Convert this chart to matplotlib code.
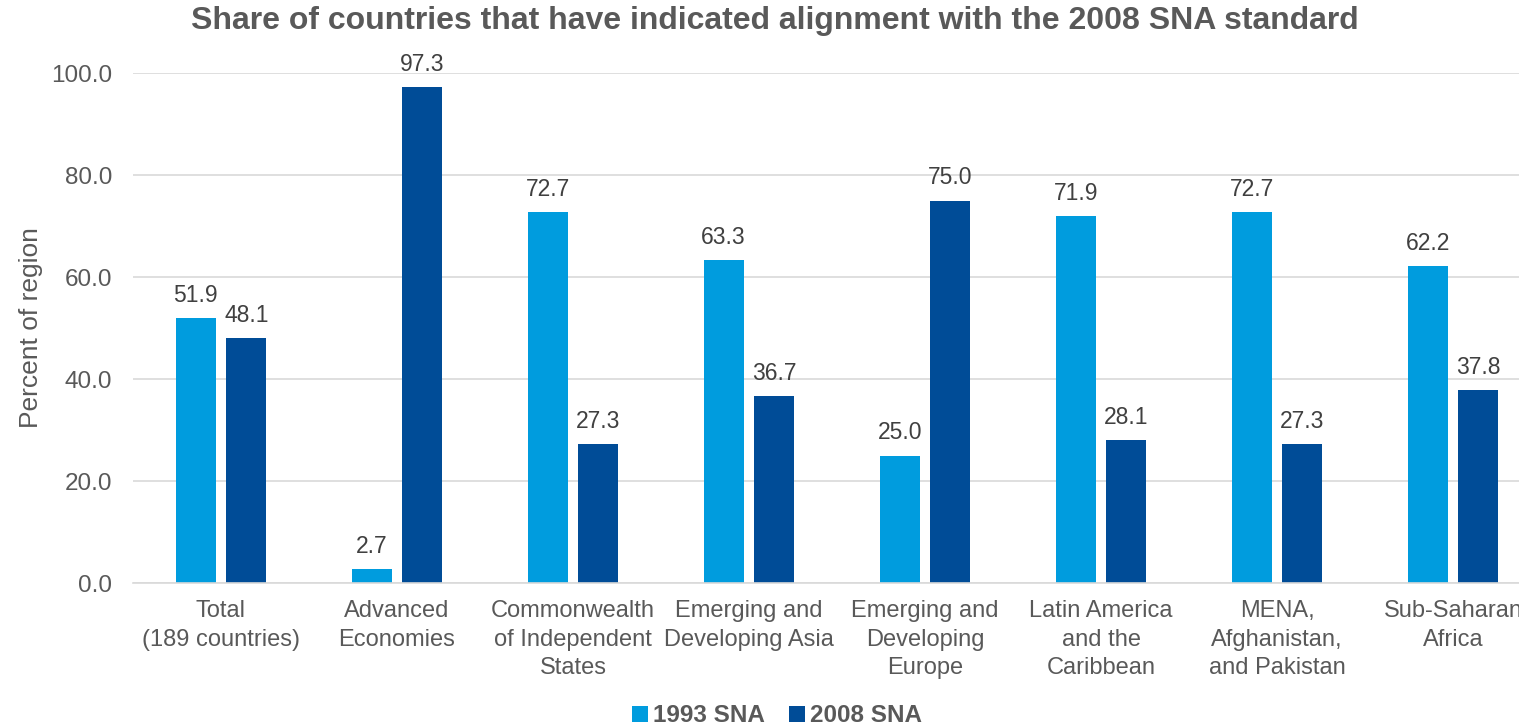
import numpy as np
import matplotlib.pyplot as plt

plt.rcParams['font.family'] = ['Liberation Sans', 'DejaVu Sans']

categories = ["Total\n(189 countries)", "Advanced\nEconomies", "Commonwealth\nof Independent\nStates",
              "Emerging and\nDeveloping Asia", "Emerging and\nDeveloping\nEurope",
              "Latin America\nand the\nCaribbean", "MENA,\nAfghanistan,\nand Pakistan", "Sub-Saharan\nAfrica"]
sna1993 = [51.9, 2.7, 72.7, 63.3, 25.0, 71.9, 72.7, 62.2]
sna2008 = [48.1, 97.3, 27.3, 36.7, 75.0, 28.1, 27.3, 37.8]

c1993 = "#009CDE"
c2008 = "#004C97"
txt = "#595959"

W, H = 1519, 728
fig = plt.figure(figsize=(W / 100, H / 100), dpi=100)
# plot area runs past the right edge, as in the original
left, right, top, bottom = 133, 1541, 73, 583
ax = fig.add_axes([left / W, 1 - bottom / H, (right - left) / W, (bottom - top) / H])

x = np.arange(len(categories))
bw = 0.227
b1 = ax.bar(x - 0.144, sna1993, bw, color=c1993, label="1993 SNA", zorder=3)
b2 = ax.bar(x + 0.144, sna2008, bw, color=c2008, label="2008 SNA", zorder=3)

for bars in (b1, b2):
    for b in bars:
        ax.annotate(f"{b.get_height():.1f}", (b.get_x() + b.get_width() / 2, b.get_height()),
                    xytext=(0, 8), textcoords="offset points", ha="center", va="bottom",
                    fontsize=16.5, color="#404040")

ax.set_xlim(-0.5, len(categories) - 0.5)
ax.set_ylim(0, 100)
ax.set_yticks(np.arange(0, 101, 20))
ax.set_yticklabels([f"{v:.1f}" for v in np.arange(0, 101, 20)])
ax.set_xticks(x)
ax.set_xticklabels(categories, linespacing=1.38, va="top")
ax.tick_params(axis="both", length=0, labelcolor=txt)
ax.tick_params(axis="x", labelsize=17, pad=12.5)
ax.tick_params(axis="y", labelsize=17.5, pad=15)
ax.grid(axis="y", color="#D9D9D9", linewidth=1.2, zorder=0)
for s in ("top", "right", "left"):
    ax.spines[s].set_visible(False)
ax.spines["bottom"].set_color("#D9D9D9")
ax.spines["bottom"].set_linewidth(1.2)
ax.spines["bottom"].set_zorder(4)

ax.set_ylabel("Percent of region", fontsize=19, color=txt, labelpad=6)
fig.text(775 / W, 1 - 21 / H, "Share of countries that have indicated alignment with the 2008 SNA standard",
         ha="center", va="center", fontsize=23, fontweight="bold", color=txt)

fig.legend(handles=[b1, b2], loc="center", bbox_to_anchor=(777 / W, 1 - 716 / H), ncol=2,
           frameon=False, prop={"size": 17.5, "weight": "bold"}, labelcolor=txt,
           handlelength=0.65, handleheight=0.65, handletextpad=0.2, columnspacing=1.0)

fig.savefig("out.png", dpi=100)
